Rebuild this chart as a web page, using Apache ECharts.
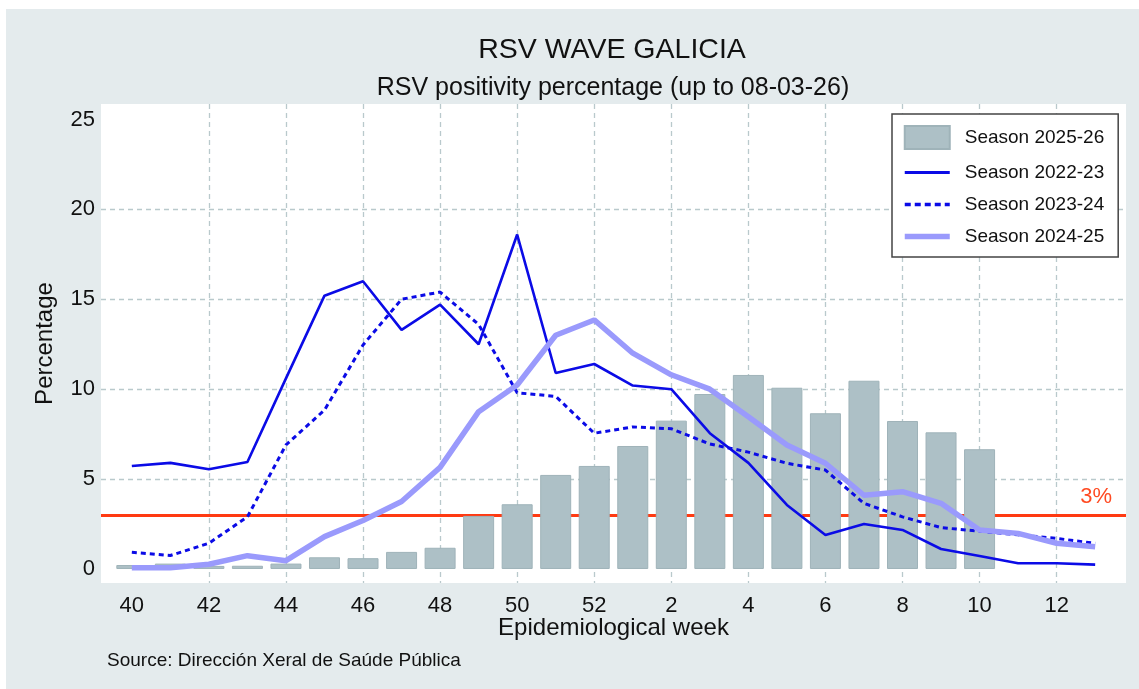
<!DOCTYPE html>
<html>
<head>
<meta charset="utf-8">
<script src="https://cdn.jsdelivr.net/npm/echarts@6/dist/echarts.min.js"></script>
<style>
  html, body { margin: 0; padding: 0; background: #fff; }
  #chart { width: 1139px; height: 689px; }
</style>
</head>
<body>
<div id="chart"></div>
<script>
// epidemiological weeks, season runs 40 -> 13
const weeks = ['40', '41', '42', '43', '44', '45', '46', '47', '48', '49', '50', '51', '52',
  '1', '2', '3', '4', '5', '6', '7', '8', '9', '10', '11', '12', '13'];

// RSV positivity (%) per week
const season2526 = [0.22, 0.3, 0.17, 0.18, 0.3, 0.65, 0.6, 0.95, 1.18, 2.95, 3.6, 5.23, 5.73,
  6.84, 8.25, 9.73, 10.79, 10.08, 8.66, 10.47, 8.23, 7.6, 6.66, null, null, null];
const season2223 = [5.73, 5.9, 5.55, 5.95, 10.6, 15.2, 16.0, 13.3, 14.7, 12.5, 18.6, 10.9, 11.4,
  10.2, 10.0, 7.55, 5.9, 3.56, 1.89, 2.5, 2.17, 1.11, 0.72, 0.32, 0.32, 0.24];
const season2324 = [0.93, 0.75, 1.43, 2.9, 6.9, 8.84, 12.46, 15.0, 15.4, 13.6, 9.8, 9.6, 7.55,
  7.9, 7.8, 6.95, 6.5, 5.88, 5.5, 3.65, 2.9, 2.3, 2.1, 1.9, 1.7, 1.43];
const season2425 = [0.07, 0.07, 0.26, 0.74, 0.46, 1.8, 2.7, 3.75, 5.65, 8.75, 10.23, 13.0, 13.85,
  12.0, 10.8, 10.0, 8.47, 6.9, 5.88, 4.1, 4.3, 3.65, 2.17, 1.98, 1.43, 1.24];

const threshold = 3;
const xLabelIdx = [0, 2, 4, 6, 8, 10, 12, 14, 16, 18, 20, 22, 24];
const xGridIdx = [2, 4, 6, 8, 10, 12, 14, 16, 18, 20, 22, 24];
const yLabels = [0, 5, 10, 15, 20, 25];
const yGrid = [5, 10, 15, 20];

const FONT = "'Liberation Sans', Arial, sans-serif";
const BLUE = '#0b0be6';
const LIGHT = '#9a9afc';
const pairs = arr => arr.map((v, i) => [i, v]);

const chart = echarts.init(document.getElementById('chart'));

const option = {
  animation: false,
  backgroundColor: '#fff',
  textStyle: { fontFamily: FONT },
  graphic: [
    { type: 'rect', z: -10, shape: { x: 6, y: 9, width: 1133, height: 680 }, style: { fill: '#e4ebed' } },
    { type: 'text', style: { x: 612, y: 50, text: 'RSV WAVE GALICIA', font: '28.5px ' + FONT, fill: '#111', textAlign: 'center', textVerticalAlign: 'middle' } },
    { type: 'text', style: { x: 613, y: 88, text: 'RSV positivity percentage (up to 08-03-26)', font: '25px ' + FONT, fill: '#111', textAlign: 'center', textVerticalAlign: 'middle' } },
    { type: 'text', style: { x: 107, y: 661, text: 'Source: Dirección Xeral de Saúde Pública', font: '19px ' + FONT, fill: '#111', textAlign: 'left', textVerticalAlign: 'middle' } }
  ],
  grid: {
    left: 101, right: 13, top: 104, bottom: 106,
    show: true, backgroundColor: '#fff', borderWidth: 0
  },
  legend: {
    orient: 'vertical',
    left: 892, top: 114,
    padding: [11, 14, 11, 10],
    itemWidth: 45, itemHeight: 23, itemGap: 13,
    borderColor: '#444', borderWidth: 1.5, backgroundColor: '#fff',
    textStyle: { fontSize: 19, color: '#111', fontFamily: FONT, padding: [0, 0, 0, 10] },
    data: [
      { name: 'Season 2025-26', icon: 'rect' },
      { name: 'Season 2022-23', itemStyle: { opacity: 0 }, lineStyle: { width: 3.2 } },
      { name: 'Season 2023-24', itemStyle: { opacity: 0 }, lineStyle: { width: 3.4, type: [6, 4] } },
      { name: 'Season 2024-25', itemStyle: { opacity: 0 }, lineStyle: { width: 5.5 } }
    ]
  },
  xAxis: {
    type: 'value',
    min: -0.8, max: 25.8,
    name: 'Epidemiological week',
    nameLocation: 'middle', nameGap: 33, nameMoveOverlap: false,
    nameTextStyle: { fontSize: 24, color: '#111' },
    axisLine: { show: false },
    axisTick: { show: false, customValues: xGridIdx },
    axisLabel: {
      customValues: xLabelIdx,
      formatter: v => weeks[v],
      fontSize: 22, color: '#111', margin: 12
    },
    splitLine: { show: true, lineStyle: { color: '#b9c9cc', width: 1.3, type: [5, 4] } }
  },
  yAxis: {
    type: 'value',
    min: -0.78, max: 25.86,
    name: 'Percentage',
    nameLocation: 'middle', nameGap: 44,
    nameTextStyle: { fontSize: 24, color: '#111' },
    axisLine: { show: false },
    axisTick: { show: false, customValues: yGrid },
    axisLabel: { customValues: yLabels, fontSize: 22, color: '#111', margin: 6 },
    splitLine: { show: true, lineStyle: { color: '#b9c9cc', width: 1.3, type: [5, 4] } }
  },
  series: [
    {
      name: 'Season 2025-26',
      type: 'bar',
      barWidth: 31,
      data: pairs(season2526),
      itemStyle: { color: '#adc0c6', borderColor: '#9fb3b9', borderWidth: 1 },
      markLine: {
        z: 1,
        silent: true,
        symbol: 'none',
        lineStyle: { color: '#ff3a12', width: 3, type: 'solid' },
        label: {
          show: true, position: 'insideEndTop', formatter: '3%',
          color: '#ff4a22', fontSize: 22, fontFamily: FONT, distance: [14, 7]
        },
        data: [{ yAxis: threshold }]
      }
    },
    {
      name: 'Season 2022-23',
      type: 'line',
      symbol: 'none',
      data: pairs(season2223),
      lineStyle: { color: BLUE, width: 2.6 },
      itemStyle: { color: BLUE }
    },
    {
      name: 'Season 2023-24',
      type: 'line',
      symbol: 'none',
      data: pairs(season2324),
      lineStyle: { color: BLUE, width: 3, type: [5, 4] },
      itemStyle: { color: BLUE }
    },
    {
      name: 'Season 2024-25',
      type: 'line',
      symbol: 'none',
      data: pairs(season2425),
      lineStyle: { color: LIGHT, width: 5.5 },
      itemStyle: { color: LIGHT }
    }
  ]
};

chart.setOption(option);
</script>
</body>
</html>
